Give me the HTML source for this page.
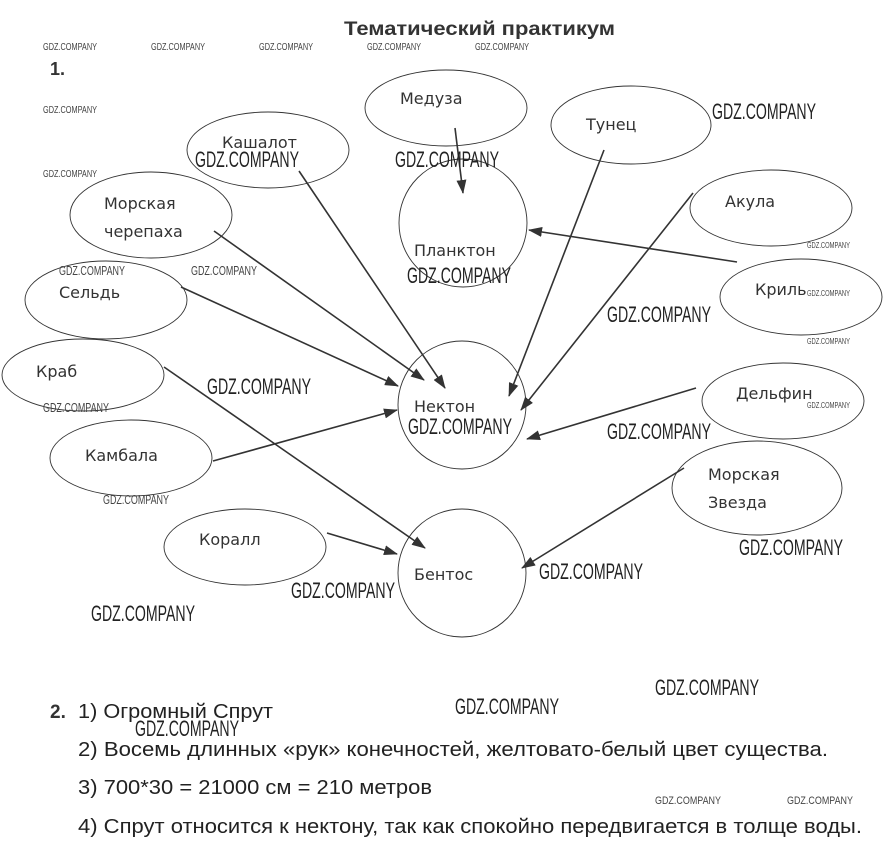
<!DOCTYPE html>
<html><head><meta charset="utf-8"><style>
html,body{margin:0;padding:0;background:#fff;}
svg{display:block;}
.lb{font-family:"DejaVu Sans","Liberation Sans",sans-serif;font-size:16px;fill:#333;}
.wb{font-family:"Liberation Sans Narrow","Liberation Sans",sans-serif;font-size:22px;fill:#222;}
.ws{font-family:"Liberation Sans Narrow","Liberation Sans",sans-serif;font-size:10px;fill:#444;}
.tx{font-family:"Liberation Sans",sans-serif;font-size:20px;fill:#222;}
</style></head><body>
<svg width="896" height="851" viewBox="0 0 896 851" xmlns="http://www.w3.org/2000/svg">
<defs><marker id="a" markerWidth="14" markerHeight="10" refX="13" refY="5" orient="auto" markerUnits="userSpaceOnUse"><path d="M0,0 L14,5 L0,10 z" fill="#333"/></marker></defs>
<text x="344" y="35" font-family="Liberation Sans,sans-serif" font-weight="bold" font-size="19" fill="#333" textLength="271" lengthAdjust="spacingAndGlyphs">Тематический практикум</text>
<text x="50" y="75" font-family="Liberation Sans,sans-serif" font-weight="bold" font-size="18" fill="#333">1.</text>
<g fill="none" stroke="#333" stroke-width="0.9">
<ellipse cx="446" cy="108" rx="81" ry="38"/>
<ellipse cx="268" cy="150" rx="81" ry="38"/>
<ellipse cx="631" cy="125" rx="80" ry="39"/>
<ellipse cx="771" cy="208" rx="81" ry="38"/>
<ellipse cx="151" cy="215" rx="81" ry="43"/>
<circle cx="463" cy="223" r="64"/>
<ellipse cx="106" cy="300" rx="81" ry="39"/>
<ellipse cx="801" cy="297" rx="81" ry="38"/>
<ellipse cx="83" cy="375" rx="81" ry="36"/>
<circle cx="462" cy="405" r="64"/>
<ellipse cx="783" cy="401" rx="81" ry="38"/>
<ellipse cx="131" cy="458" rx="81" ry="38"/>
<ellipse cx="757" cy="488" rx="85" ry="47"/>
<ellipse cx="245" cy="547" rx="81" ry="38"/>
<circle cx="462" cy="573" r="64"/>
</g>
<g stroke="#333" stroke-width="1.6" marker-end="url(#a)">
<line x1="455" y1="128" x2="463" y2="193"/>
<line x1="299" y1="171" x2="445" y2="388"/>
<line x1="214" y1="231" x2="424" y2="380"/>
<line x1="181" y1="287" x2="398" y2="386"/>
<line x1="213" y1="461" x2="397" y2="410"/>
<line x1="604" y1="150" x2="509" y2="396"/>
<line x1="693" y1="193" x2="521" y2="410"/>
<line x1="737" y1="262" x2="529" y2="230"/>
<line x1="696" y1="388" x2="527" y2="439"/>
<line x1="164" y1="367" x2="425" y2="548"/>
<line x1="327" y1="533" x2="397" y2="554"/>
<line x1="684" y1="468" x2="522" y2="568"/>
</g>
<g class="lb">
<text x="400" y="104">Медуза</text>
<text x="222" y="148">Кашалот</text>
<text x="586" y="130">Тунец</text>
<text x="725" y="207">Акула</text>
<text x="104" y="209">Морская</text>
<text x="104" y="237">черепаха</text>
<text x="414" y="256">Планктон</text>
<text x="59" y="298">Сельдь</text>
<text x="755" y="295">Криль</text>
<text x="36" y="377">Краб</text>
<text x="414" y="412">Нектон</text>
<text x="736" y="399">Дельфин</text>
<text x="85" y="461">Камбала</text>
<text x="708" y="480">Морская</text>
<text x="708" y="508">Звезда</text>
<text x="199" y="545">Коралл</text>
<text x="414" y="580">Бентос</text>
</g>
<g class="wb">
<text x="195" y="167" textLength="104" lengthAdjust="spacingAndGlyphs">GDZ.COMPANY</text>
<text x="395" y="167" textLength="104" lengthAdjust="spacingAndGlyphs">GDZ.COMPANY</text>
<text x="712" y="119" textLength="104" lengthAdjust="spacingAndGlyphs">GDZ.COMPANY</text>
<text x="407" y="283" textLength="104" lengthAdjust="spacingAndGlyphs">GDZ.COMPANY</text>
<text x="607" y="322" textLength="104" lengthAdjust="spacingAndGlyphs">GDZ.COMPANY</text>
<text x="207" y="394" textLength="104" lengthAdjust="spacingAndGlyphs">GDZ.COMPANY</text>
<text x="408" y="434" textLength="104" lengthAdjust="spacingAndGlyphs">GDZ.COMPANY</text>
<text x="607" y="439" textLength="104" lengthAdjust="spacingAndGlyphs">GDZ.COMPANY</text>
<text x="739" y="555" textLength="104" lengthAdjust="spacingAndGlyphs">GDZ.COMPANY</text>
<text x="539" y="579" textLength="104" lengthAdjust="spacingAndGlyphs">GDZ.COMPANY</text>
<text x="291" y="598" textLength="104" lengthAdjust="spacingAndGlyphs">GDZ.COMPANY</text>
<text x="91" y="621" textLength="104" lengthAdjust="spacingAndGlyphs">GDZ.COMPANY</text>
<text x="655" y="695" textLength="104" lengthAdjust="spacingAndGlyphs">GDZ.COMPANY</text>
<text x="455" y="714" textLength="104" lengthAdjust="spacingAndGlyphs">GDZ.COMPANY</text>
<text x="135" y="736" textLength="104" lengthAdjust="spacingAndGlyphs">GDZ.COMPANY</text>
</g>
<g class="ws">
<text x="43" y="50" textLength="54" lengthAdjust="spacingAndGlyphs">GDZ.COMPANY</text>
<text x="151" y="50" textLength="54" lengthAdjust="spacingAndGlyphs">GDZ.COMPANY</text>
<text x="259" y="50" textLength="54" lengthAdjust="spacingAndGlyphs">GDZ.COMPANY</text>
<text x="367" y="50" textLength="54" lengthAdjust="spacingAndGlyphs">GDZ.COMPANY</text>
<text x="475" y="50" textLength="54" lengthAdjust="spacingAndGlyphs">GDZ.COMPANY</text>
<text x="43" y="113" textLength="54" lengthAdjust="spacingAndGlyphs">GDZ.COMPANY</text>
<text x="43" y="177" textLength="54" lengthAdjust="spacingAndGlyphs">GDZ.COMPANY</text>
<text x="59" y="275" font-size="13" textLength="66" lengthAdjust="spacingAndGlyphs">GDZ.COMPANY</text>
<text x="191" y="275" font-size="13" textLength="66" lengthAdjust="spacingAndGlyphs">GDZ.COMPANY</text>
<text x="43" y="412" font-size="13" textLength="66" lengthAdjust="spacingAndGlyphs">GDZ.COMPANY</text>
<text x="103" y="504" font-size="13" textLength="66" lengthAdjust="spacingAndGlyphs">GDZ.COMPANY</text>
<text x="807" y="248" font-size="8" textLength="43" lengthAdjust="spacingAndGlyphs">GDZ.COMPANY</text>
<text x="807" y="296" font-size="8" textLength="43" lengthAdjust="spacingAndGlyphs">GDZ.COMPANY</text>
<text x="807" y="344" font-size="8" textLength="43" lengthAdjust="spacingAndGlyphs">GDZ.COMPANY</text>
<text x="807" y="408" font-size="8" textLength="43" lengthAdjust="spacingAndGlyphs">GDZ.COMPANY</text>
<text x="655" y="804" font-size="11" textLength="66" lengthAdjust="spacingAndGlyphs">GDZ.COMPANY</text>
<text x="787" y="804" font-size="11" textLength="66" lengthAdjust="spacingAndGlyphs">GDZ.COMPANY</text>
</g>
<text x="50" y="718" font-family="Liberation Sans,sans-serif" font-weight="bold" font-size="19" fill="#333">2.</text>
<g class="tx">
<text x="78" y="718" textLength="195" lengthAdjust="spacingAndGlyphs">1) Огромный Спрут</text>
<text x="78" y="756" textLength="750" lengthAdjust="spacingAndGlyphs">2) Восемь длинных «рук» конечностей, желтовато-белый цвет существа.</text>
<text x="78" y="794" textLength="354" lengthAdjust="spacingAndGlyphs">3) 700*30 = 21000 см = 210 метров</text>
<text x="78" y="833" textLength="784" lengthAdjust="spacingAndGlyphs">4) Спрут относится к нектону, так как спокойно передвигается в толще воды.</text>
</g>
</svg>
</body></html>
